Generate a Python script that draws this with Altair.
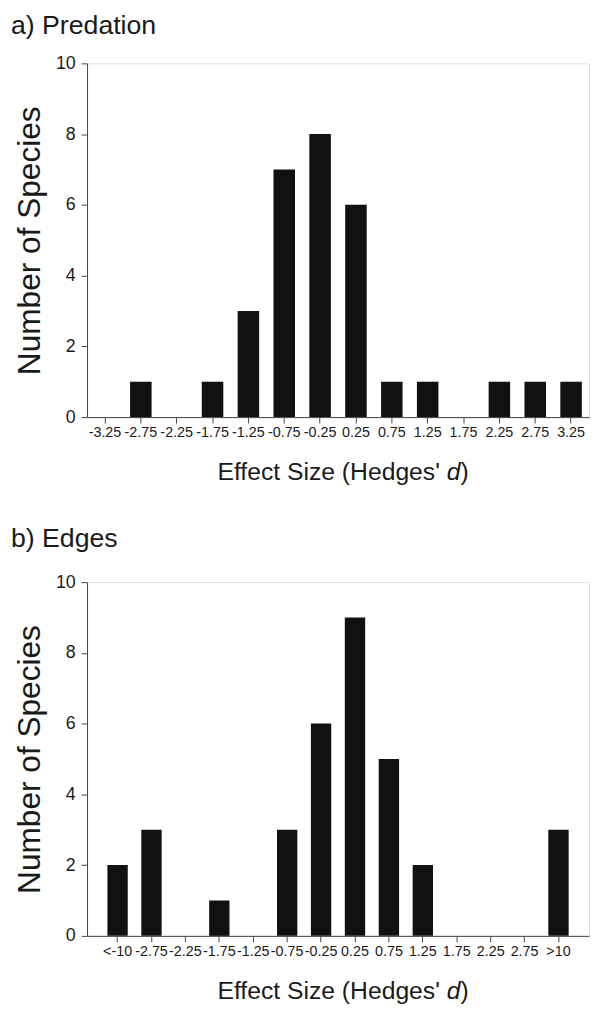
import altair as alt
import pandas as pd

# ---- data ----
cats_a = ["-3.25", "-2.75", "-2.25", "-1.75", "-1.25", "-0.75", "-0.25",
          "0.25", "0.75", "1.25", "1.75", "2.25", "2.75", "3.25"]
counts_a = [0, 1, 0, 1, 3, 7, 8, 6, 1, 1, 0, 1, 1, 1]

cats_b = ["<-10", "-2.75", "-2.25", "-1.75", "-1.25", "-0.75", "-0.25",
          "0.25", "0.75", "1.25", "1.75", "2.25", "2.75", ">10"]
counts_b = [2, 3, 0, 1, 0, 3, 6, 9, 5, 2, 0, 0, 0, 3]

panel_titles = ["a) Predation", "b) Edges"]
y_title = "Number of Species"
x_title_parts = ["Effect Size (Hedges'", "d", ")"]
y_ticks = [0, 2, 4, 6, 8, 10]

# ---- layout / style ----
W, H = 508, 358
FONT = "Liberation Sans"
XT = 25
D_EM = 0.556      # width of "d"
SPACE_EM = 0.278  # width of a space
AXIS_COL = "#444444"
TEXT_COL = "#1a1a1a"


def panel(cats, counts, title, pad_outer, title_y):
    df = pd.DataFrame({"cat": cats, "n": counts})
    bars = alt.Chart(df).mark_bar(color="#111111").encode(
        x=alt.X("cat:N", sort=cats,
                scale=alt.Scale(paddingInner=0.4, paddingOuter=pad_outer),
                axis=alt.Axis(title=None, labelAngle=0, labelFontSize=14.5,
                              labelFont=FONT, labelColor=TEXT_COL,
                              labelPadding=3, tickSize=6, tickColor=AXIS_COL,
                              domainColor=AXIS_COL, labelOverlap=False)),
        y=alt.Y("n:Q", scale=alt.Scale(domain=[0, 10], nice=False),
                axis=alt.Axis(values=y_ticks, title=y_title, grid=False,
                              labelFontSize=18, labelFont=FONT,
                              labelColor=TEXT_COL, labelPadding=6,
                              tickSize=6, tickColor=AXIS_COL,
                              domainColor=AXIS_COL, titleFont=FONT,
                              titleFontSize=32, titleFontWeight="normal",
                              titleColor=TEXT_COL, titlePadding=9)),
    )
    # x title: "Effect Size (Hedges' d)" with an italic d, centred under the plot
    d_center = W / 2 + 117
    specs = [
        (x_title_parts[0], "right", "normal", d_center - D_EM * XT / 2 - SPACE_EM * XT),
        (x_title_parts[1], "center", "italic", d_center),
        (x_title_parts[2], "left", "normal", d_center + D_EM * XT / 2),
    ]
    layers = [bars]
    for part, align, style, xpos in specs:
        t = alt.Chart(pd.DataFrame({"t": [part]})).mark_text(
            align=align, baseline="middle", font=FONT, fontSize=XT,
            color=TEXT_COL, fontStyle=style,
        ).encode(text="t:N", x=alt.value(xpos), y=alt.value(H + 56))
        layers.append(t)
    # panel title, top-left
    ttl = alt.Chart(pd.DataFrame({"t": [title]})).mark_text(
        align="left", baseline="top", font=FONT, fontSize=27,
        color=TEXT_COL,
    ).encode(text="t:N", x=alt.value(-77), y=alt.value(title_y))
    layers.append(ttl)
    return alt.layer(*layers).properties(width=W, height=H)


chart = alt.vconcat(
    panel(cats_a, counts_a, panel_titles[0], 0.2, -51),
    panel(cats_b, counts_b, panel_titles[1], 0.6, -57),
    spacing=38,
).properties(
    padding={"left": 2, "top": -3, "right": 0, "bottom": 0}
).configure_view(stroke=None).configure(background="white")

chart.save("out.html", embed_options={"renderer": "svg", "actions": False})
